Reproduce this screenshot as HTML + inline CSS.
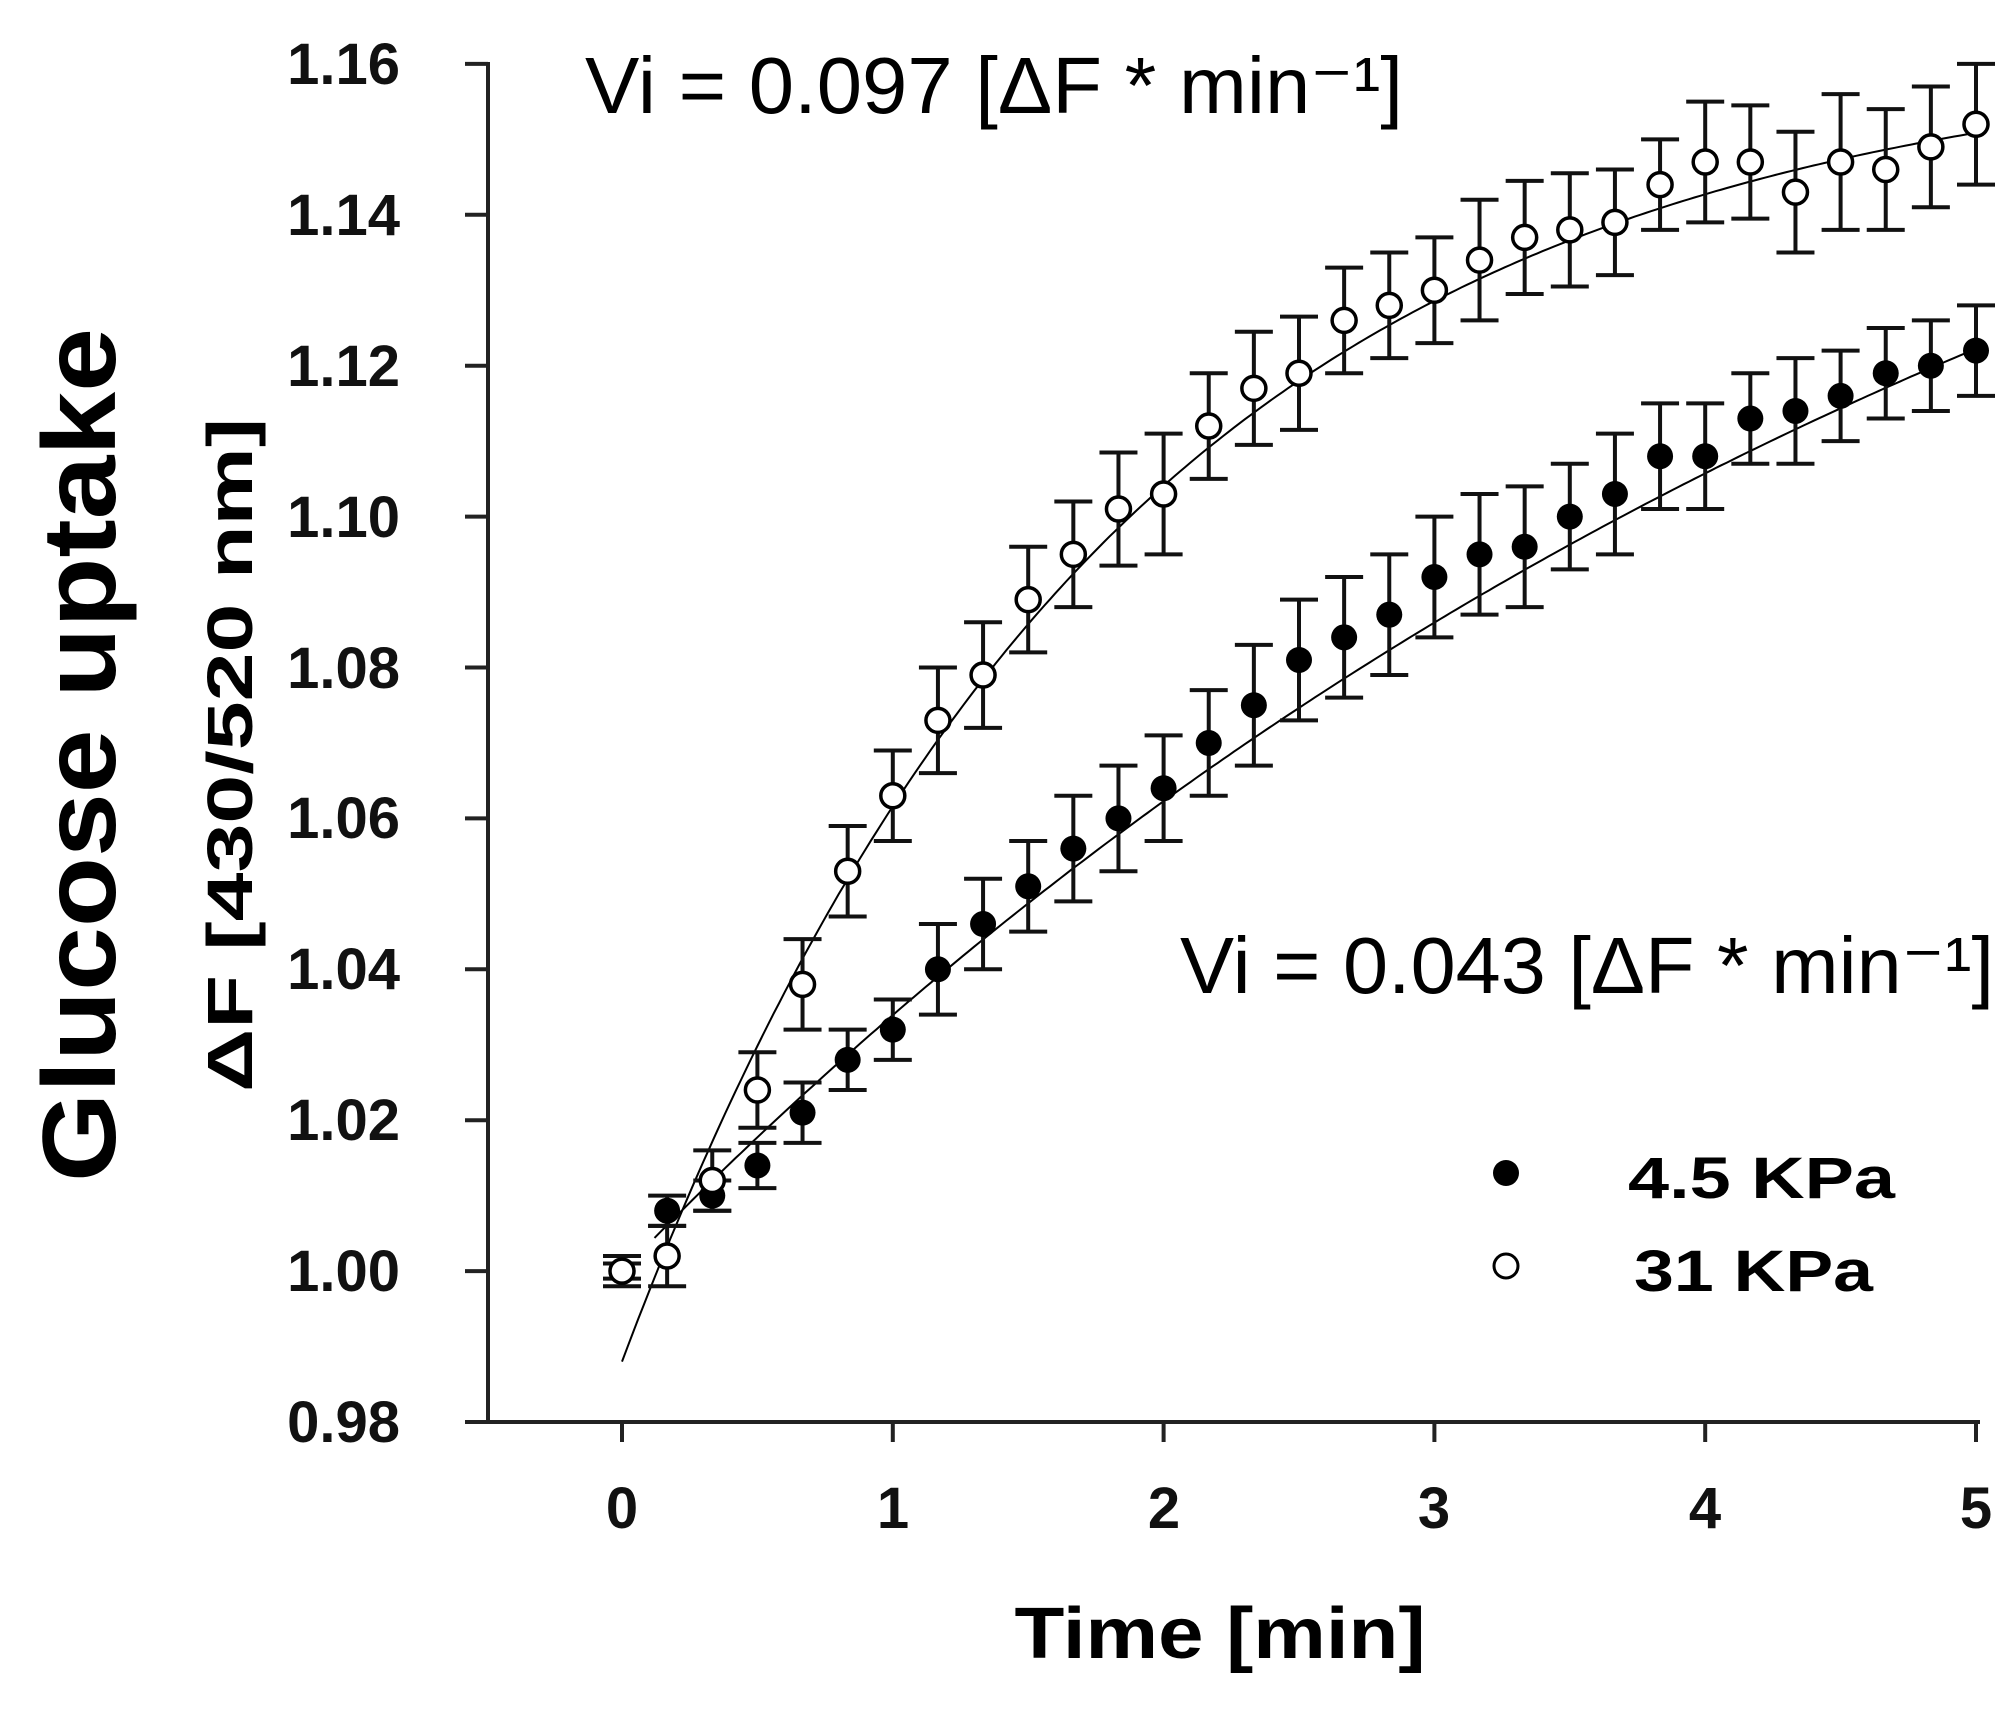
<!DOCTYPE html>
<html><head><meta charset="utf-8"><style>html,body{margin:0;padding:0;background:#fff;}svg{display:block;}</style></head>
<body>
<svg id="s" xmlns="http://www.w3.org/2000/svg" width="2015" height="1714" viewBox="0 0 2015 1714">
<rect width="2015" height="1714" fill="#fff"/>
<g font-family="Liberation Sans, Arial, sans-serif">
<text transform="translate(115,755) rotate(-90)" text-anchor="middle" font-size="104" font-weight="bold" textLength="854" lengthAdjust="spacingAndGlyphs">Glucose uptake</text>
<text transform="translate(252,755) rotate(-90)" text-anchor="middle" font-size="64" font-weight="bold" textLength="674" lengthAdjust="spacingAndGlyphs">ΔF [430/520 nm]</text>
<g font-size="58" font-weight="bold" text-anchor="end" fill="#111">
<text x="400" y="84">1.16</text>
<text x="400" y="235">1.14</text>
<text x="400" y="386">1.12</text>
<text x="400" y="537">1.10</text>
<text x="400" y="688">1.08</text>
<text x="400" y="838">1.06</text>
<text x="400" y="989">1.04</text>
<text x="400" y="1140">1.02</text>
<text x="400" y="1291">1.00</text>
<text x="400" y="1442">0.98</text>
</g>
<g font-size="58" font-weight="bold" text-anchor="middle" fill="#111">
<text x="622" y="1528">0</text>
<text x="893" y="1528">1</text>
<text x="1164" y="1528">2</text>
<text x="1434" y="1528">3</text>
<text x="1705" y="1528">4</text>
<text x="1976" y="1528">5</text>
</g>
<text x="1220" y="1658" text-anchor="middle" font-size="72" font-weight="bold" textLength="411" lengthAdjust="spacingAndGlyphs">Time [min]</text>
<text x="585" y="113" font-size="80" textLength="818" lengthAdjust="spacingAndGlyphs">Vi = 0.097 [ΔF * min⁻¹]</text>
<text x="1180" y="993" font-size="80" textLength="814" lengthAdjust="spacingAndGlyphs">Vi = 0.043 [ΔF * min⁻¹]</text>
<text x="1628" y="1198" font-size="58" font-weight="bold" textLength="267" lengthAdjust="spacingAndGlyphs">4.5 KPa</text>
<text x="1634" y="1291" font-size="58" font-weight="bold" textLength="239" lengthAdjust="spacingAndGlyphs">31 KPa</text>
</g>
<circle cx="1506" cy="1173" r="13" fill="#000"/>
<circle cx="1506" cy="1266" r="12" fill="#fff" stroke="#000" stroke-width="3"/>
<g stroke="#222" stroke-width="4" fill="none">
<line x1="488" y1="62" x2="488" y2="1424"/>
<line x1="465" y1="1422" x2="1980" y2="1422"/>
</g>
<g id="d"></g>
</svg>
<script>
var X=function(t){return 622+t*270.8;},Y=function(v){return 1422-(v-0.98)/0.02*150.9;};
var g=document.getElementById('d'),h='';
[1.16,1.14,1.12,1.10,1.08,1.06,1.04,1.02,1.00,0.98].forEach(function(v){h+='<line x1="465" x2="488" y1="'+Y(v)+'" y2="'+Y(v)+'" stroke="#222" stroke-width="4"/>';});
[0,1,2,3,4,5].forEach(function(t){h+='<line x1="'+X(t)+'" x2="'+X(t)+'" y1="1422" y2="1442" stroke="#222" stroke-width="4"/>';});
function path(f,t0){var p='';for(var t=t0;t<=5.0001;t+=0.02){p+=(p?'L':'M')+X(t).toFixed(1)+','+Y(f(t)).toFixed(1);}return '<path d="'+p+'" stroke="#000" stroke-width="2" fill="none"/>';}
h+=path(function(t){return 0.988+0.174*(1-Math.exp(-0.55*t));},0);
h+=path(function(t){return 1.0+0.206*(1-Math.exp(-0.18*t));},0.12);
var op=[[1.000,0.002],[1.002,0.004],[1.012,0.004],[1.024,0.005],[1.038,0.006],[1.053,0.006],[1.063,0.006],[1.073,0.007],[1.079,0.007],[1.089,0.007],[1.095,0.007],[1.101,0.0075],[1.103,0.008],[1.112,0.007],[1.117,0.0075],[1.119,0.0075],[1.126,0.007],[1.128,0.007],[1.130,0.007],[1.134,0.008],[1.137,0.0075],[1.138,0.0075],[1.139,0.007],[1.144,0.006],[1.147,0.008],[1.147,0.0075],[1.143,0.008],[1.147,0.009],[1.146,0.008],[1.149,0.008],[1.152,0.008]];
var fi=[[1.000,0.001],[1.008,0.002],[1.010,0.002],[1.014,0.003],[1.021,0.004],[1.028,0.004],[1.032,0.004],[1.040,0.006],[1.046,0.006],[1.051,0.006],[1.056,0.007],[1.060,0.007],[1.064,0.007],[1.070,0.007],[1.075,0.008],[1.081,0.008],[1.084,0.008],[1.087,0.008],[1.092,0.008],[1.095,0.008],[1.096,0.008],[1.100,0.007],[1.103,0.008],[1.108,0.007],[1.108,0.007],[1.113,0.006],[1.114,0.007],[1.116,0.006],[1.119,0.006],[1.120,0.006],[1.122,0.006]];
function eb(arr){arr.forEach(function(d,i){var x=X(i/6),y1=Y(d[0]+d[1]),y2=Y(d[0]-d[1]);h+='<g stroke="#111" stroke-width="4"><line x1="'+x+'" x2="'+x+'" y1="'+y1+'" y2="'+y2+'"/><line x1="'+(x-19)+'" x2="'+(x+19)+'" y1="'+y1+'" y2="'+y1+'"/><line x1="'+(x-19)+'" x2="'+(x+19)+'" y1="'+y2+'" y2="'+y2+'"/></g>';});}
eb(fi);eb(op);
fi.forEach(function(d,i){if(i==0)return;h+='<circle cx="'+X(i/6)+'" cy="'+Y(d[0])+'" r="13" fill="#000"/>';});
op.forEach(function(d,i){h+='<circle cx="'+X(i/6)+'" cy="'+Y(d[0])+'" r="12" fill="#fff" stroke="#000" stroke-width="3.5"/>';});
g.innerHTML=h;
</script>
</body></html>
